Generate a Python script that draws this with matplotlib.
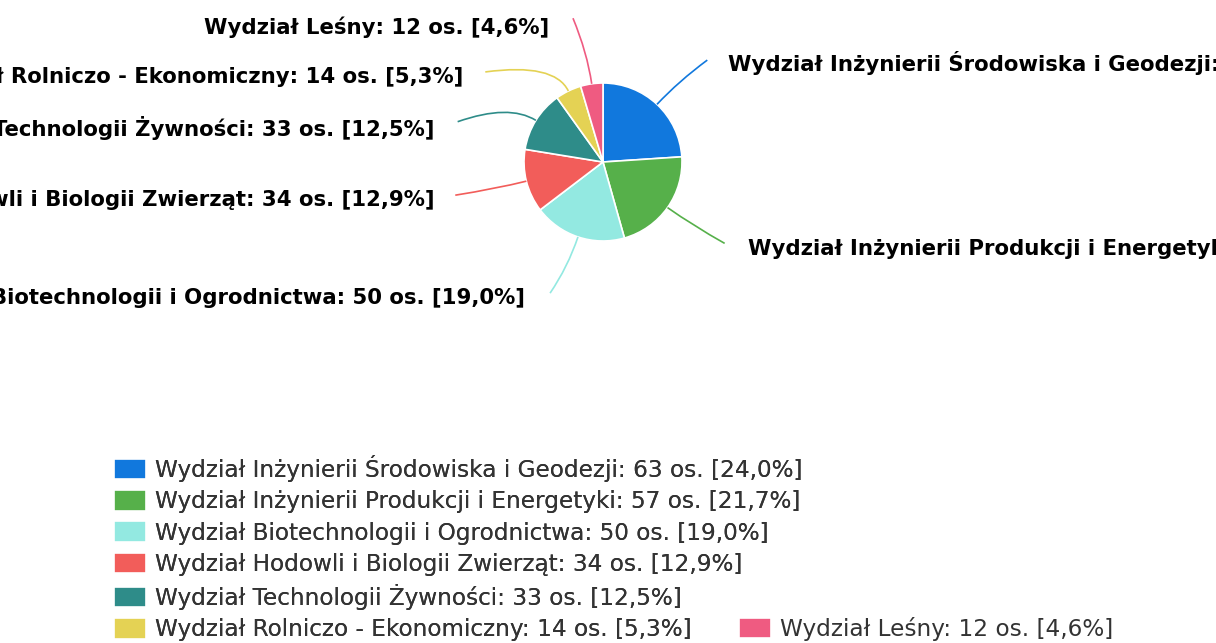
import matplotlib
matplotlib.use("Agg")
import matplotlib.pyplot as plt
import numpy as np
from matplotlib.path import Path
from matplotlib.patches import PathPatch

# ---- data ----
categories = [
    "Wydział Inżynierii Środowiska i Geodezji",
    "Wydział Inżynierii Produkcji i Energetyki",
    "Wydział Biotechnologii i Ogrodnictwa",
    "Wydział Hodowli i Biologii Zwierząt",
    "Wydział Technologii Żywności",
    "Wydział Rolniczo - Ekonomiczny",
    "Wydział Leśny",
]
counts = [63, 57, 50, 34, 33, 14, 12]
percents = ["24,0", "21,7", "19,0", "12,9", "12,5", "5,3", "4,6"]

# ---- style ----
colors = ["#1178dd", "#56b04a", "#93e9e1", "#f25d5a", "#2e8c89", "#e4d254", "#ef5b81"]
# label text anchor (data units of the pie axes, radius = 1) and alignment
label_pos = [(1.58, 1.25, "left"), (1.84, -1.10, "left"), (-0.99, -1.72, "right"),
             (-2.13, -0.48, "right"), (-2.13, 0.43, "right"), (-1.77, 1.08, "right"),
             (-0.68, 1.71, "right")]
line_end = [(1.32, 1.29), (1.54, -1.03), (-0.67, -1.66), (-1.87, -0.42),
            (-1.84, 0.51), (-1.49, 1.14), (-0.38, 1.82)]

W, H = 1216, 643
fig = plt.figure(figsize=(W / 100, H / 100), dpi=100)
fig.patch.set_facecolor("white")

cx, cy, R = 603, 162, 79
ax = fig.add_axes([(cx - R) / W, (H - cy - R) / H, 2 * R / W, 2 * R / H])
wedges, _ = ax.pie(counts, colors=colors, startangle=90, counterclock=False,
                   radius=1, wedgeprops=dict(edgecolor="white", linewidth=1.2))
ax.set_xlim(-1, 1)
ax.set_ylim(-1, 1)
ax.axis("off")

labels = [f"{c}: {n} os. [{p}%]" for c, n, p in zip(categories, counts, percents)]

for w, lab, col, (tx, ty, ha), (ex, ey) in zip(wedges, labels, colors, label_pos, line_end):
    ang = np.deg2rad((w.theta1 + w.theta2) / 2)
    sx, sy = np.cos(ang), np.sin(ang)
    kx, ky = 1.4 * np.cos(ang), 1.4 * np.sin(ang)
    path = Path([(sx, sy), (kx, ky), (ex, ey)], [Path.MOVETO, Path.CURVE3, Path.CURVE3])
    ax.add_patch(PathPatch(path, facecolor="none", edgecolor=col, lw=1.2, clip_on=False))
    ax.text(tx, ty, lab, ha=ha, va="center", fontsize=15.3, fontweight="bold",
            color="black", clip_on=False, family="DejaVu Sans")

# ---- legend ----
fs = 16.7
common = dict(frameon=False, fontsize=fs, handlelength=1.39, handleheight=0.98,
              handletextpad=0.39, borderpad=0, borderaxespad=0, labelcolor="#333333")
leg1 = fig.legend(wedges[:6], labels[:6], loc="upper left",
                  bbox_to_anchor=(114 / W, 1 - 455 / H), labelspacing=0.35, **common)
leg2 = fig.legend([wedges[6]], [labels[6]], loc="upper left",
                  bbox_to_anchor=(739 / W, 1 - 617 / H), **common)
fig.add_artist(leg1)

fig.savefig("out.png", dpi=100, facecolor="white")
